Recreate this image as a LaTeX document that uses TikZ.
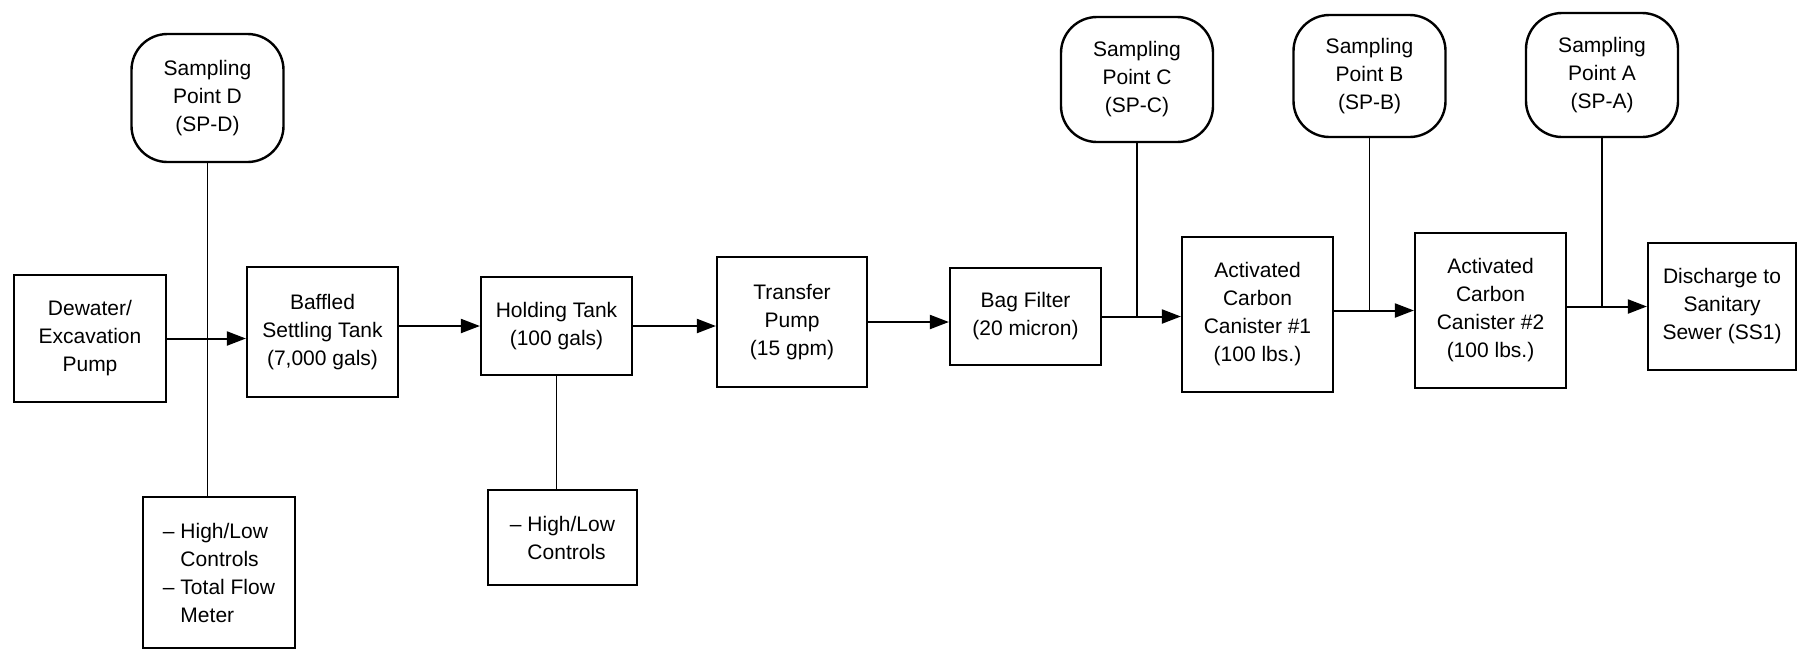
\documentclass[tikz,border=0pt]{standalone}
\usepackage{fontspec}
\setmainfont{Liberation Sans}
\usetikzlibrary{arrows.meta}
\begin{document}
\begin{tikzpicture}[x=1pt,y=-1pt,
  every node/.style={font=\fontsize{21}{28}\selectfont, inner sep=0pt},
  proc/.style={draw, line width=2.2pt, align=center},
  ctl/.style={draw, line width=2.2pt, align=left},
  samp/.style={draw, line width=2.4pt, rounded corners=36pt, align=center,
               minimum width=152, minimum height=125},
  flow/.style={line width=2pt, -{Triangle[length=19pt,width=14pt]}},
  tap/.style={line width=1.3pt}]
\useasboundingbox (0,0) rectangle (1798,651);

% process boxes
\node[proc, minimum width=152, minimum height=127] (dew) at (90,338.5) {Dewater/\\Excavation\\Pump};
\node[proc, minimum width=151, minimum height=130] (baf) at (322.5,332) {Baffled\\Settling Tank\\(7,000 gals)};
\node[proc, minimum width=151, minimum height=98] (hold) at (556.5,326) {Holding Tank\\(100 gals)};
\node[proc, minimum width=150, minimum height=130] (tr) at (792,322) {Transfer\\Pump\\(15 gpm)};
\node[proc, minimum width=151, minimum height=97] (bag) at (1025.5,316.5) {Bag Filter\\(20 micron)};
\node[proc, minimum width=151, minimum height=155] (c1) at (1257.5,314.5) {Activated\\Carbon\\Canister \#1\\(100 lbs.)};
\node[proc, minimum width=151, minimum height=155] (c2) at (1490.5,310.5) {Activated\\Carbon\\Canister \#2\\(100 lbs.)};
\node[proc, minimum width=148, minimum height=127] (dis) at (1722,306.5) {Discharge to\\Sanitary\\Sewer (SS1)};

% control boxes
\node[ctl, minimum width=152, minimum height=151] (ctlD) at (219,572.5) {– High/Low\\\phantom{– }Controls\\– Total Flow\\\phantom{– }Meter};
\node[ctl, minimum width=149, minimum height=95] (hctl) at (562.5,537.5) {– High/Low\\\phantom{– }Controls};

% sampling points
\node[samp, minimum height=128] (spd) at (207.5,98) {Sampling\\Point D\\(SP-D)};
\node[samp] (spc) at (1137,79.5) {Sampling\\Point C\\(SP-C)};
\node[samp, minimum height=122] (spb) at (1369.5,76) {Sampling\\Point B\\(SP-B)};
\node[samp, minimum height=124] (spa) at (1602,75) {Sampling\\Point A\\(SP-A)};

% flow arrows
\draw[flow] (dew.east) -- (dew.east -| baf.west);
\draw[flow] (hold.west -| baf.east) -- (hold.west);
\draw[flow] (hold.east) -- (hold.east -| tr.west);
\draw[flow] (tr.east) -- (tr.east -| bag.west);
\draw[flow] (bag.east) -- (bag.east -| c1.west);
\draw[flow] (c2.west -| c1.east) -- (c2.west);
\draw[flow] (dis.west -| c2.east) -- (dis.west);

% taps
\draw[tap] (spd.south) -- (spd.south |- ctlD.north);
\draw[tap] (hold.south) -- (hold.south |- hctl.north);
\draw[tap] (spc.south) -- (spc.south |- bag.east);
\draw[tap] (spb.south) -- (spb.south |- c2.west);
\draw[tap] (spa.south) -- (spa.south |- dis.west);
\end{tikzpicture}
\end{document}
